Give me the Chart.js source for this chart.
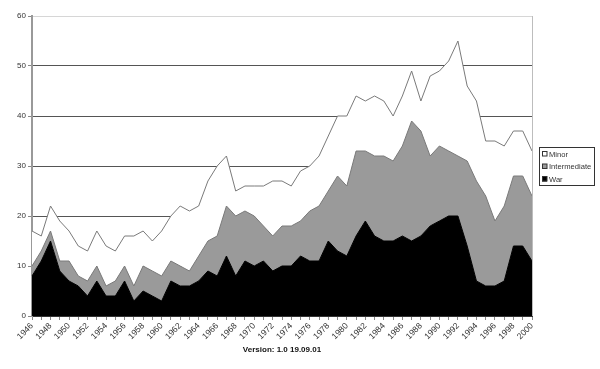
<!DOCTYPE html>
<html>
<head>
<meta charset="utf-8">
<script src="https://cdn.jsdelivr.net/npm/chart.js@4.4.0/dist/chart.umd.min.js"></script>
<style>
  html, body { margin: 0; padding: 0; background: #fff; }
  #wrap { width: 600px; height: 369px; }
</style>
</head>
<body>
<div id="wrap"><canvas id="chart" width="600" height="369"></canvas></div>
<script>
// ── Data ─────────────────────────────────────────────────────────────
const years = [];
for (let y = 1946; y <= 2000; y++) years.push(String(y));

const war = [
    8, 11, 15, 9, 7, 6, 4, 7, 4, 4,
    7, 3, 5, 4, 3, 7, 6, 6, 7, 9,
    8, 12, 8, 11, 10, 11, 9, 10, 10, 12,
    11, 11, 15, 13, 12, 16, 19, 16, 15, 15,
    16, 15, 16, 18, 19, 20, 20, 14, 7, 6,
    6, 7, 14, 14, 11
];
const intermediate = [
    2, 2, 2, 2, 4, 2, 3, 3, 2, 3,
    3, 3, 5, 5, 5, 4, 4, 3, 5, 6,
    8, 10, 12, 10, 10, 7, 7, 8, 8, 7,
    10, 11, 10, 15, 14, 17, 14, 16, 17, 16,
    18, 24, 21, 14, 15, 13, 12, 17, 20, 18,
    13, 15, 14, 14, 13
];
const minor = [
    7, 3, 5, 8, 6, 6, 6, 7, 8, 6,
    6, 10, 7, 6, 9, 9, 12, 12, 10, 12,
    14, 10, 5, 5, 6, 8, 11, 9, 8, 10,
    9, 10, 11, 12, 14, 11, 10, 12, 11, 9,
    10, 10, 6, 16, 15, 18, 23, 15, 16, 11,
    16, 12, 9, 9, 9
];
const yTicks = [0, 10, 20, 30, 40, 50, 60];

// ── Legend + plot border ─────────────────────────────────────────────
const legendItems = [
    { label: 'Minor', fill: '#ffffff' },
    { label: 'Intermediate', fill: '#9a9a9a' },
    { label: 'War', fill: '#000000' }
];

const boxPlugin = {
    id: 'boxPlugin',
    afterDatasetsDraw(chart) {
        const { ctx, chartArea: a } = chart;
        ctx.save();
        ctx.strokeStyle = '#bdbdbd';
        ctx.lineWidth = 1;
        ctx.beginPath();
        ctx.moveTo(a.right + 0.5, a.top);
        ctx.lineTo(a.right + 0.5, a.bottom);
        ctx.stroke();
        ctx.restore();
    },
    afterDraw(chart) {
        const ctx = chart.ctx;
        ctx.save();
        ctx.strokeStyle = '#333';
        ctx.lineWidth = 1;
        ctx.strokeRect(539.5, 147.5, 55, 38);
        ctx.font = '7.6px "Liberation Sans", Arial, sans-serif';
        ctx.textBaseline = 'middle';
        legendItems.forEach((it, i) => {
            const y = 154 + i * 12.5;
            ctx.fillStyle = it.fill;
            ctx.fillRect(542, y - 2.5, 5, 5);
            ctx.strokeStyle = '#333';
            ctx.strokeRect(542.5, y - 2.5, 4.5, 4.5);
            ctx.fillStyle = '#333';
            ctx.fillText(it.label, 549, y + 0.5);
        });
        ctx.restore();
    }
};

// ── Chart ────────────────────────────────────────────────────────────
Chart.defaults.font.family = '"Liberation Sans", Arial, sans-serif';
Chart.defaults.font.size = 8;
Chart.defaults.color = '#333';

const ctx = document.getElementById('chart').getContext('2d');
new Chart(ctx, {
    type: 'line',
    data: {
        labels: years,
        datasets: [
            {
                label: 'War',
                data: war,
                fill: 'origin',
                backgroundColor: '#000000',
                borderColor: '#000000',
                borderWidth: 1
            },
            {
                label: 'Intermediate',
                data: intermediate,
                fill: '-1',
                backgroundColor: '#9a9a9a',
                borderColor: '#7a7a7a',
                borderWidth: 1
            },
            {
                label: 'Minor',
                data: minor,
                fill: '-1',
                backgroundColor: '#ffffff',
                borderColor: '#7a7a7a',
                borderWidth: 1
            }
        ]
    },
    options: {
        responsive: false,
        animation: false,
        devicePixelRatio: 1,
        elements: { line: { tension: 0 }, point: { radius: 0 } },
        layout: { padding: { left: 0, right: 68, top: 16, bottom: 0 } },
        plugins: {
            legend: { display: false },
            tooltip: { enabled: false }
        },
        scales: {
            x: {
                stacked: true,
                offset: false,
                grid: { display: true, drawOnChartArea: false, drawTicks: true, tickLength: 4, color: '#888' },
                border: { color: '#333' },
                ticks: {
                    autoSkip: false,
                    minRotation: 45,
                    maxRotation: 45,
                    padding: 1,
                    font: { size: 8.5 },
                    callback: (v, i) => (i % 2 === 0 ? years[i] : '')
                },
                title: {
                    display: true,
                    text: 'Version: 1.0 19.09.01',
                    font: { size: 8, weight: 'bold' },
                    color: '#111',
                    padding: { top: 0, bottom: 14 }
                },
                afterFit: s => { s.height = 53; }
            },
            y: {
                stacked: true,
                min: 0,
                max: 60,
                afterBuildTicks: s => { s.ticks = yTicks.map(v => ({ value: v })); },
                grid: {
                    color: c => (c.tick && c.tick.value === 60 ? '#d6d6d6' : '#555'),
                    tickLength: 4,
                    tickColor: '#888'
                },
                border: { color: '#999', width: 2 },
                ticks: { padding: 2, font: { size: 8 } },
                afterFit: s => { s.width = 32; }
            }
        }
    },
    plugins: [boxPlugin]
});
</script>
</body>
</html>
